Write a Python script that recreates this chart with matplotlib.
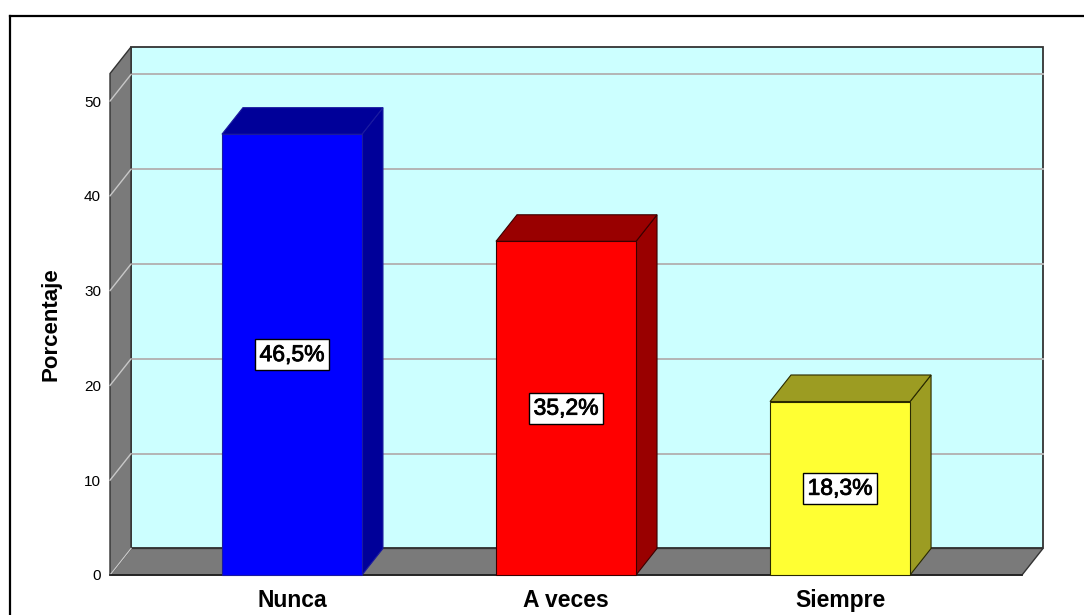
import matplotlib
matplotlib.use("Agg")
import matplotlib.pyplot as plt
from matplotlib.patches import Polygon
from matplotlib.lines import Line2D
import matplotlib.patheffects as pe

plt.rcParams['font.family'] = ['Liberation Sans', 'DejaVu Sans']

# ---- data ----
categories = ["Nunca", "A veces", "Siempre"]
values = [46.5, 35.2, 18.3]
labels = ["46,5%", "35,2%", "18,3%"]
yticks = [0, 10, 20, 30, 40, 50]
front_colors = ["#0000FF", "#FF0000", "#FFFF33"]
side_colors = ["#000099", "#990000", "#9C9C22"]
edge_colors = ["#1a1aa0", "#3a0000", "#2a2a00"]

# ---- geometry (data units) ----
W = 0.511          # bar width (category units)
DX, DY = 0.0766, 2.8   # 3-D depth offset
XMIN, XMAXF = -0.664, 2.664
YTOP = 52.9

W_PX, H_PX = 1084, 615
fig = plt.figure(figsize=(W_PX / 100, H_PX / 100), dpi=100)
left, right, bottom, top = 110, 1043, 575, 47
ax = fig.add_axes([left / W_PX, (H_PX - bottom) / H_PX,
                   (right - left) / W_PX, (bottom - top) / H_PX])
ax.set_xlim(XMIN, XMAXF + DX)
ax.set_ylim(0, YTOP + DY)
for s in ax.spines.values():
    s.set_visible(False)
ax.set_facecolor("none")

wall_gray = "#7A7A7A"
edge_dark = "#333333"

# back wall
ax.add_patch(Polygon([(XMIN + DX, DY), (XMAXF + DX, DY), (XMAXF + DX, YTOP + DY),
                      (XMIN + DX, YTOP + DY)], closed=True, fc="#CCFFFF",
                     ec=edge_dark, lw=1.3, zorder=1, clip_on=False))
# grid on back wall
for t in yticks[1:]:
    ax.plot([XMIN + DX, XMAXF + DX], [t + DY, t + DY], color="#B4B4B4",
            lw=1.4, zorder=2, clip_on=False)
# floor
ax.add_patch(Polygon([(XMIN, 0), (XMAXF, 0), (XMAXF + DX, DY), (XMIN + DX, DY)],
                     closed=True, fc=wall_gray, ec=edge_dark, lw=1.0, zorder=3,
                     clip_on=False))
# left wall
ax.add_patch(Polygon([(XMIN, 0), (XMIN + DX, DY), (XMIN + DX, YTOP + DY), (XMIN, YTOP)],
                     closed=True, fc=wall_gray, ec=edge_dark, lw=1.0, zorder=3,
                     clip_on=False))
for t in yticks:
    ax.plot([XMIN, XMIN + DX], [t, t + DY], color="#C8C8C8", lw=1.0, zorder=4,
            clip_on=False)
# front bottom edge
ax.plot([XMIN, XMAXF], [0, 0], color="#222222", lw=1.3, zorder=4, clip_on=False)

# bars
xs = list(range(len(categories)))
for i, v in enumerate(values):
    x = xs[i]
    h = W / 2
    ax.add_patch(Polygon([(x + h, 0), (x + h + DX, DY), (x + h + DX, v + DY), (x + h, v)],
                         closed=True, fc=side_colors[i], ec=edge_colors[i], lw=0.8,
                         zorder=5, clip_on=False))
    ax.add_patch(Polygon([(x - h, v), (x + h, v), (x + h + DX, v + DY), (x - h + DX, v + DY)],
                         closed=True, fc=side_colors[i], ec=edge_colors[i], lw=0.8,
                         zorder=5, clip_on=False))
ax.bar(xs, values, width=W, color=front_colors, edgecolor=edge_colors,
       linewidth=0.8, zorder=6, clip_on=False)

for i, v in enumerate(values):
    ax.text(xs[i], v / 2, labels[i], ha="center", va="center", fontsize=16.5,
            zorder=7,
            path_effects=[pe.withStroke(linewidth=0.6, foreground="black")],
            bbox=dict(boxstyle="square,pad=0.18", fc="white",
                      ec="black", lw=1.0))

ax.set_yticks(yticks)
ax.set_yticklabels([str(t) for t in yticks], fontsize=11)
ax.tick_params(axis="y", length=0, pad=6.5)
ax.set_xticks(xs)
ax.set_xticklabels(categories, fontsize=16.5, fontweight="bold")
ax.tick_params(axis="x", length=0, pad=10)

fig.text(51 / W_PX, 1 - 324 / H_PX, "Porcentaje", rotation=90, ha="center",
         va="center", fontsize=16, fontweight="bold")

# outer frame (top and left)
fig.add_artist(Line2D([10 / W_PX, 1.0], [1 - 16 / H_PX, 1 - 16 / H_PX],
                      color="black", lw=1.6))
fig.add_artist(Line2D([10 / W_PX, 10 / W_PX], [0, 1 - 16 / H_PX],
                      color="black", lw=1.6))

fig.savefig("out.png", dpi=100)
